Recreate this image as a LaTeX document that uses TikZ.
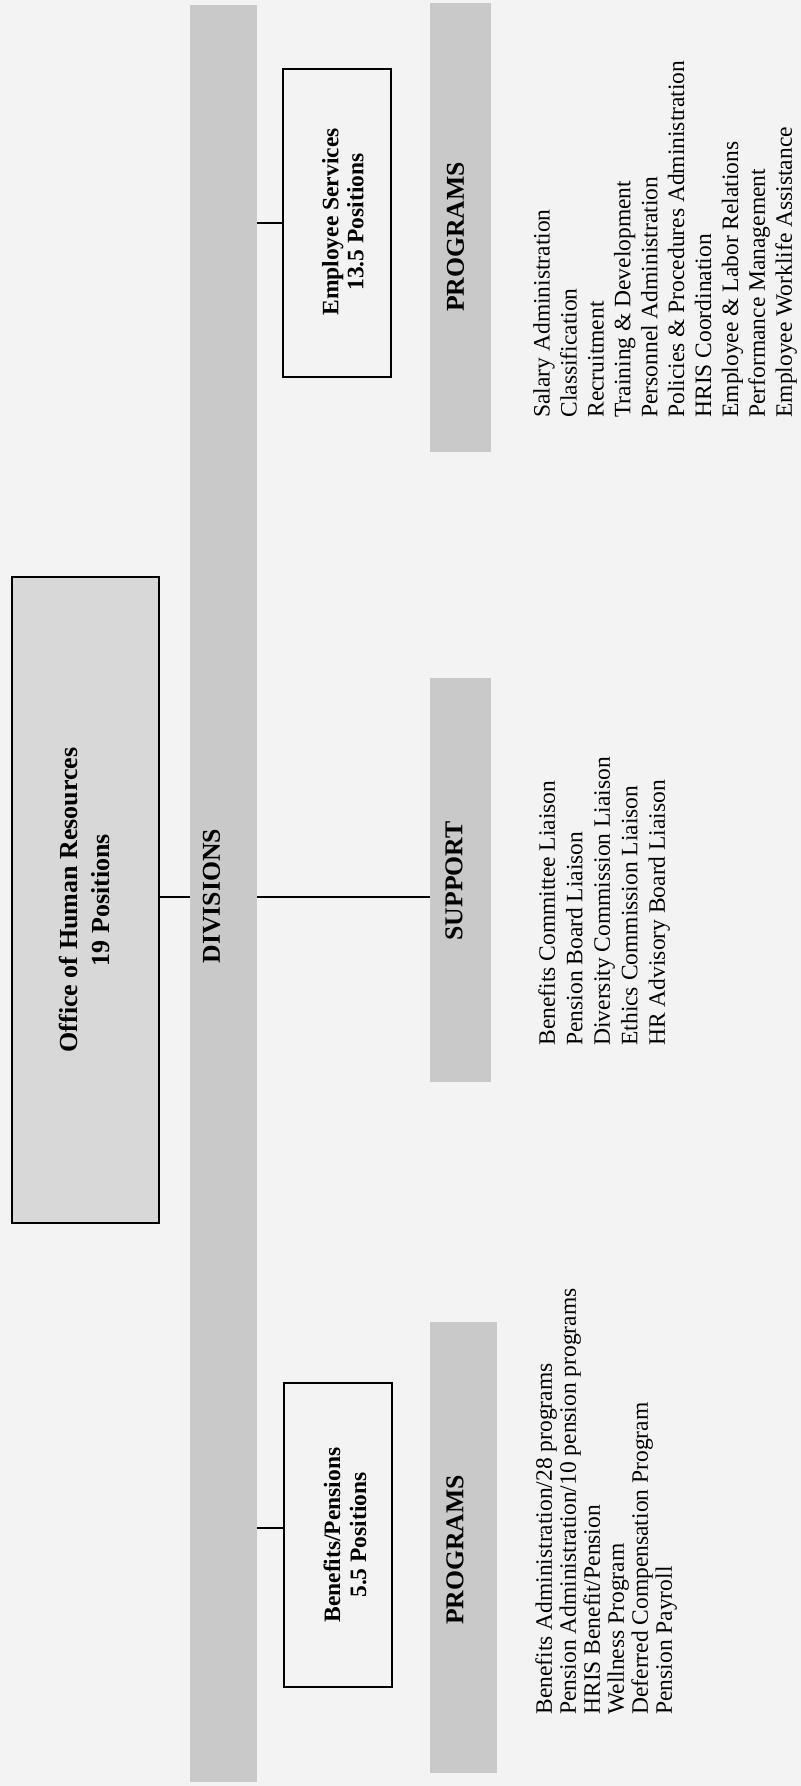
\documentclass[tikz,border=0pt]{standalone}
\usepackage{fontspec}
\setmainfont{Liberation Serif}
\definecolor{bg}{HTML}{F3F3F3}
\definecolor{barfill}{HTML}{C9C9C9}
\definecolor{offfill}{HTML}{D8D8D8}
\begin{document}
\begin{tikzpicture}[x=0.5pt,y=-0.5pt,
  box/.style={draw=black, line width=0.6pt, inner sep=0pt, outer sep=0pt},
  bar/.style={fill=barfill, draw=none, inner sep=0pt, outer sep=0pt},
  conn/.style={draw=black, line width=0.6pt},
  vtext/.style={rotate=90, inner sep=0pt, align=center},
  headtext/.style={vtext, font=\bfseries\fontsize{12.85}{15}\selectfont},
  listtext/.style={rotate=90, inner sep=0pt, align=left, anchor=north west}]
\fill[bg] (0,0) rectangle (801,1786);
\useasboundingbox (0,0) rectangle (801,1786);

% bars
\node[bar, minimum width=33.5pt, minimum height=888.5pt] (divbar) at (223.5,893.5) {};
\node[bar, minimum width=30.5pt, minimum height=202pt] (supbar) at (460.5,880) {};
\node[bar, minimum width=30.5pt, minimum height=224.5pt] (empbar) at (460.5,227.5) {};
\node[bar, minimum width=33.5pt, minimum height=225.5pt] (benbar) at (463.5,1547.5) {};

% boxes
\node[box, fill=offfill, minimum width=73.5pt, minimum height=323pt] (office) at (85.5,900) {};
\node[box, fill=bg, minimum width=54pt, minimum height=154pt] (empbox) at (337,223) {};
\node[box, fill=bg, minimum width=54pt, minimum height=152pt] (benbox) at (338,1535) {};

% box and bar texts
\node[vtext, font=\bfseries\fontsize{13}{16}\selectfont] (officetxt) at (84,900) {Office of Human Resources\\19 Positions};
\node[headtext] (divtxt) at (211.5,896) {DIVISIONS};
\node[headtext] (suptxt) at (454,881) {SUPPORT};
\node[headtext] (emptxt) at (455.5,237) {PROGRAMS};
\node[headtext] (bentxt) at (455,1550) {PROGRAMS};
\node[vtext, font=\bfseries\fontsize{11.75}{12.5}\selectfont] (empboxtxt) at (343,222) {Employee Services\\13.5 Positions};
\node[vtext, font=\bfseries\fontsize{11.75}{13}\selectfont] (benboxtxt) at (345,1535) {Benefits/Pensions\\5.5 Positions};

% lists
\node[listtext, font=\fontsize{11.75}{13.75}\selectfont] (suplist) at (538,1046) {Benefits Committee Liaison\\Pension Board Liaison\\Diversity Commission Liaison\\Ethics Commission Liaison\\HR Advisory Board Liaison};
\node[listtext, font=\fontsize{11.75}{13.45}\selectfont] (emplist) at (533,418) {Salary Administration\\Classification\\Recruitment\\Training \& Development\\Personnel Administration\\Policies \& Procedures Administration\\HRIS Coordination\\Employee \& Labor Relations\\Performance Management\\Employee Worklife Assistance};
\node[listtext, font=\fontsize{11.75}{12}\selectfont] (benlist) at (535,1715) {Benefits Administration/28 programs\\Pension Administration/10 pension programs\\HRIS Benefit/Pension\\Wellness Program\\Deferred Compensation Program\\Pension Payroll};

% connectors
\coordinate (ymain) at (0,897);
\coordinate (yben) at (0,1528);
\draw[conn] (office.east |- ymain) -- (divbar.west |- ymain);
\draw[conn] (divbar.east |- ymain) -- (supbar.west |- ymain);
\draw[conn] (divbar.east |- empbox.west) -- (empbox.west);
\draw[conn] (divbar.east |- yben) -- (benbox.west |- yben);
\end{tikzpicture}
\end{document}
